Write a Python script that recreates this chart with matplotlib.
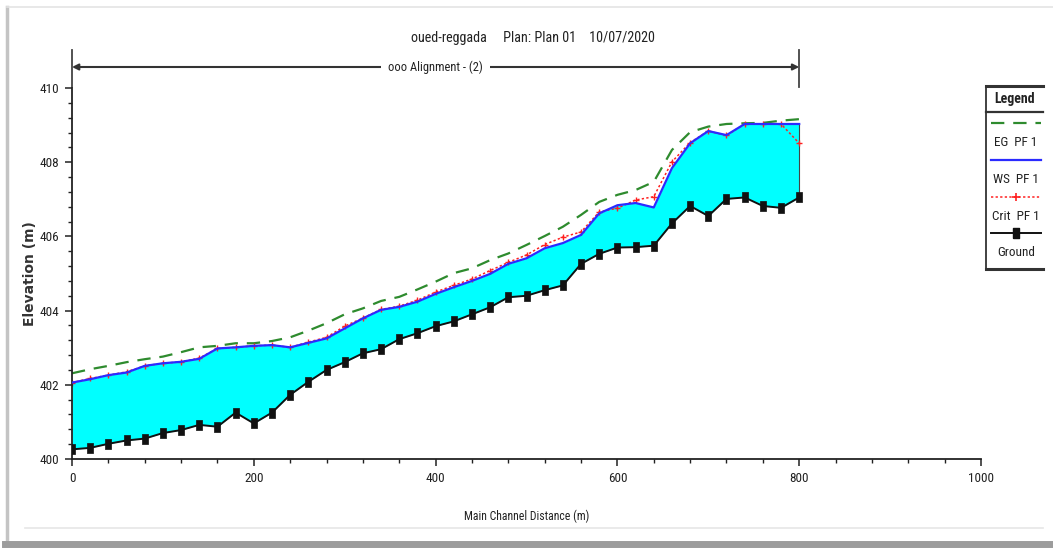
import matplotlib
matplotlib.use("Agg")
import matplotlib.pyplot as plt
from matplotlib import font_manager
from matplotlib.lines import Line2D
from matplotlib.ticker import MultipleLocator
import matplotlib.transforms as mtransforms

# ---- profile data (river stations every 20 m) ----
station = list(range(0, 801, 20))

ground = [400.26, 400.30, 400.41, 400.50, 400.55, 400.70, 400.78, 400.92, 400.87, 401.25,
          400.96, 401.25, 401.73, 402.08, 402.40, 402.61, 402.85, 402.96, 403.23, 403.39,
          403.58, 403.71, 403.90, 404.09, 404.36, 404.40, 404.55, 404.68, 405.26, 405.53,
          405.70, 405.71, 405.75, 406.35, 406.82, 406.55, 407.01, 407.05, 406.82, 406.77,
          407.05]

ws = [402.06, 402.15, 402.26, 402.33, 402.51, 402.58, 402.62, 402.70, 402.98, 403.01,
      403.05, 403.07, 403.01, 403.13, 403.25, 403.52, 403.79, 404.02, 404.10, 404.24,
      404.45, 404.63, 404.80, 404.99, 405.26, 405.41, 405.68, 405.82, 406.04, 406.62,
      406.84, 406.90, 406.78, 407.84, 408.51, 408.84, 408.73, 409.03, 409.03, 409.03,
      409.03]

eg = [402.31, 402.42, 402.51, 402.61, 402.69, 402.76, 402.88, 403.01, 403.05, 403.12,
      403.12, 403.18, 403.28, 403.46, 403.66, 403.90, 404.06, 404.26, 404.37, 404.57,
      404.78, 405.01, 405.14, 405.36, 405.54, 405.77, 406.01, 406.26, 406.58, 406.93,
      407.12, 407.25, 407.47, 408.33, 408.81, 408.96, 409.03, 409.05, 409.06, 409.12,
      409.16]

crit = [402.06, 402.17, 402.26, 402.35, 402.51, 402.58, 402.62, 402.72, 402.98, 403.01,
        403.05, 403.07, 403.01, 403.15, 403.28, 403.58, 403.80, 404.03, 404.12, 404.28,
        404.50, 404.68, 404.85, 405.08, 405.30, 405.50, 405.78, 405.98, 406.12, 406.66,
        406.76, 406.98, 407.07, 408.01, 408.53, 408.84, 408.72, 409.03, 409.03, 409.03,
        408.51]

x_ticks = [0, 200, 400, 600, 800, 1000]
y_ticks = [400, 402, 404, 406, 408, 410]

title_text = "oued-reggada     Plan: Plan 01    10/07/2020"
alignment_text = "ooo Alignment - (2)"
legend_entries = ["EG  PF 1", "WS  PF 1", "Crit  PF 1", "Ground"]

# ---- fonts: prefer a condensed sans face ----
fonts = font_manager.fontManager.ttflist
names = {f.name for f in fonts}
if "Liberation Sans Narrow" in names:
    fam, stretch, k = "Liberation Sans Narrow", "normal", 1.0
elif "Roboto Condensed" in names:
    fam, stretch, k = "Roboto Condensed", "normal", 1.0
elif any(f.name == "DejaVu Sans" and f.stretch == "condensed" for f in fonts):
    fam, stretch, k = "DejaVu Sans", "condensed", 0.9
else:
    fam, stretch, k = "Liberation Sans", "normal", 0.85
plt.rcParams["font.family"] = [fam, "DejaVu Sans"]
plt.rcParams["font.stretch"] = stretch

W, H = 1053, 548
fig = plt.figure(figsize=(W / 100, H / 100), dpi=100)
fig.patch.set_facecolor("white")


def fx(px):
    return px / W


def fy(py):
    return 1 - py / H


def fig_line(xs, ys, **kw):
    fig.add_artist(Line2D([fx(v) for v in xs], [fy(v) for v in ys],
                          transform=fig.transFigure, **kw))


# ---- main axes ----
ax_left, ax_right, ax_top, ax_bottom = 72, 981, 88, 459
ax = fig.add_axes([fx(ax_left), fy(ax_bottom), (ax_right - ax_left) / W,
                   (ax_bottom - ax_top) / H])
ax.set_xlim(0, 1000)
ax.set_ylim(400, 410)
for side in ("top", "right"):
    ax.spines[side].set_visible(False)
for side in ("left", "bottom"):
    ax.spines[side].set_linewidth(1.3)
    ax.spines[side].set_color("#222222")

ax.set_xticks(x_ticks)
ax.set_yticks(y_ticks)
ax.xaxis.set_minor_locator(MultipleLocator(40))
ax.yaxis.set_minor_locator(MultipleLocator(0.4))
ax.tick_params(which="major", length=5, width=1.1, color="#222222",
               labelsize=9.5 * k, labelcolor="#222222", pad=4)
ax.tick_params(which="minor", length=3, width=1.0, color="#222222")

ax.set_xlabel("Main Channel Distance (m)", fontsize=8.5 * k, color="#222222")
ax.xaxis.set_label_coords(0.5, -(516 - ax_bottom) / (ax_bottom - ax_top), transform=ax.transAxes)
ax.xaxis.label.set_va("center")
ax.set_ylabel("Elevation (m)", fontsize=10, fontweight="bold", color="#333333",
              family="DejaVu Sans", stretch="normal")
ax.yaxis.set_label_coords((30 - ax_left) / (ax_right - ax_left), 0.5, transform=ax.transAxes)
ax.yaxis.label.set_va("center")

# water between ground and water surface
ax.fill_between(station, ground, ws, color="#00ffff", linewidth=0, zorder=1)
ax.plot([station[-1], station[-1]], [ground[-1], ws[-1]], color="#444444", lw=0.8, zorder=1.5)

ground_marker = [(-0.55, -1.0), (0.55, -1.0), (0.55, 1.0), (-0.55, 1.0), (-0.55, -1.0)]

ax.plot(station, eg, color="#2e8b2e", lw=1.6, dashes=(6, 4), zorder=2, label=legend_entries[0])
ax.plot(station, crit, color="#ff2020", lw=1.1, ls=(0, (1.5, 1.5)), marker="+",
        markersize=5, markeredgewidth=1.0, zorder=2.5, label=legend_entries[2])
ax.plot(station, ws, color="#2b2bff", lw=1.6, zorder=3, label=legend_entries[1])
ax.plot(station, ground, color="#111111", lw=1.4, marker=ground_marker, markersize=7,
        markerfacecolor="#111111", markeredgewidth=0.5, zorder=4, label=legend_entries[3])

# ---- alignment bar above the plot ----
blend = mtransforms.blended_transform_factory(ax.transData, fig.transFigure)
y_bar = fy(67)
ax.annotate("", xy=(station[0], y_bar), xytext=(station[-1], y_bar),
            xycoords=blend, textcoords=blend,
            arrowprops=dict(arrowstyle="<|-|>", color="#333333", lw=1.5,
                            shrinkA=0, shrinkB=0, mutation_scale=9))
for xs in (station[0], station[-1]):
    ax.add_artist(Line2D([xs, xs], [fy(50), fy(87)], transform=blend,
                         color="#444444", lw=1.3, clip_on=False))
ax.text((station[0] + station[-1]) / 2, y_bar, alignment_text, transform=blend,
        ha="center", va="center", fontsize=9 * k, color="#222222",
        bbox=dict(facecolor="white", edgecolor="none", pad=5), clip_on=False)

# ---- title ----
fig.text(fx(533), fy(38), title_text, ha="center", va="center", fontsize=10.2 * k,
         color="#222222")

# ---- legend panel ----
lx0, lx1 = 986, 1043
fig_line([lx0, lx0], [86, 269], color="#333333", lw=1.3)
fig_line([lx0, lx1], [86, 86], color="#333333", lw=2.2)
fig_line([lx0, lx1], [112, 112], color="#333333", lw=1.6)
fig_line([lx0, lx1], [269, 269], color="#333333", lw=2.2)
fig.text(fx(1015), fy(99), "Legend", ha="center", va="center", fontsize=10 * k,
         fontweight="bold", color="#222222")

sx0, sx1 = 991, 1041
fig_line([sx0, sx1], [123, 123], color="#2e8b2e", lw=1.6, dashes=(6, 4))
fig_line([sx0, sx1], [160, 160], color="#2b2bff", lw=1.6)
fig_line([sx0, sx1], [197, 197], color="#ff2020", lw=1.1, ls=(0, (1.5, 1.5)))
fig_line([1016], [197], color="#ff2020", marker="+", markersize=6, markeredgewidth=1.2, ls="none")
fig_line([sx0, sx1], [233, 233], color="#111111", lw=1.4)
fig_line([1016], [233], color="#111111", marker=ground_marker, markersize=7, ls="none")
for label, ypx in zip(legend_entries, (142, 179, 216, 252)):
    fig.text(fx(1016), fy(ypx), label, ha="center", va="center", fontsize=9.5 * k,
             color="#222222")

# ---- window frame ----
fig_line([7, 7], [7, 541], color="#c4c4c4", lw=2.5)
fig_line([7, W], [7, 7], color="#e4e4e4", lw=1.2)
fig_line([25, 1043], [528, 528], color="#e6e6e6", lw=1.2)
fig_line([5, W], [544, 544], color="#9c9c9c", lw=5)

fig.savefig("out.png", dpi=100, facecolor="white")
